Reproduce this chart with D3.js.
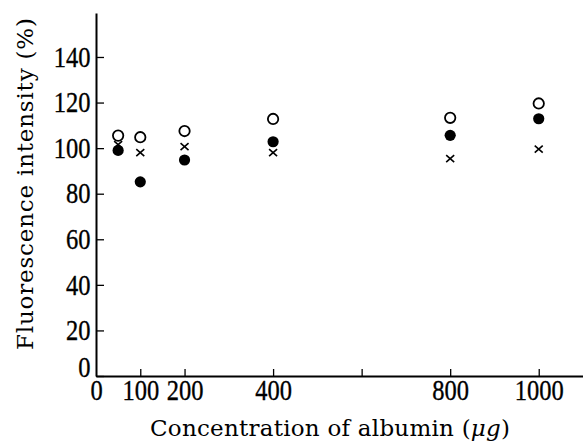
<!DOCTYPE html>
<html>
<head>
<meta charset="utf-8">
<script src="https://cdn.jsdelivr.net/npm/d3@7"></script>
<style>
  body { margin: 0; background: #fff; }
</style>
</head>
<body>
<div id="chart"></div>
<script>
// albumin amount (ug) and fluorescence intensity (%)
const albumin = [50, 100, 200, 400, 800, 1000];
const openCircle = [105.5, 104.8, 107.5, 112.8, 113.3, 119.6];
const filledCircle = [99, 85.2, 94.8, 102.8, 105.6, 112.9];
const cross = [101.5, 98, 100.7, 98, 95.4, 99.6];

const xTicks = [0, 100, 200, 400, 600, 800, 1000];
const xTickLabels = ["0", "100", "200", "400", "", "800", "1000"];
const yTicks = [0, 20, 40, 60, 80, 100, 120, 140];

const width = 583, height = 443;
const margin = { top: 13, left: 96, bottom: 67, right: 0 };

const xScale = d3.scaleLinear()
    .domain([0, 1100])
    .range([margin.left, width - margin.right]);

const yScale = d3.scaleLinear()
    .domain([0, 159.3])
    .range([height - margin.bottom, margin.top]);

const svg = d3.select("#chart").append("svg")
    .attr("width", width)
    .attr("height", height);

const ink = "#000";
const tickFont = "'Liberation Serif', serif";
const titleFont = "'DejaVu Serif', serif";

// axes: ticks point inward
const xAxis = d3.axisBottom(xScale)
    .tickValues(xTicks)
    .tickFormat((d, i) => xTickLabels[i])
    .tickSizeInner(-7)
    .tickSizeOuter(0)
    .tickPadding(3);

const yAxis = d3.axisLeft(yScale)
    .tickValues(yTicks)
    .tickSizeInner(-8)
    .tickSizeOuter(0)
    .tickPadding(5.5);

const gx = svg.append("g")
    .attr("transform", `translate(0,${yScale(0)})`)
    .call(xAxis);

const gy = svg.append("g")
    .attr("transform", `translate(${xScale(0)},0)`)
    .call(yAxis);

[gx, gy].forEach(g => {
    g.select(".domain").attr("stroke", ink).attr("stroke-width", 2);
    g.selectAll(".tick line").attr("stroke", ink).attr("stroke-width", 1.3);
    // digits in the original are tall and narrow
    g.selectAll(".tick text")
        .attr("font-family", tickFont)
        .attr("font-size", 24.5)
        .attr("fill", ink)
        .attr("stroke", ink)
        .attr("stroke-width", 0.3)
        .attr("transform", "scale(1,1.17)");
});
gx.selectAll(".tick").filter(d => d === 0).select("line").remove();
gx.selectAll(".tick text").attr("dy", "0.71em");
gy.selectAll(".tick").filter(d => d === 0).select("text").attr("dy", "0.0em");

// markers
const mk = svg.append("g");

mk.selectAll("circle.open")
    .data(albumin.map((a, i) => [a, openCircle[i]]))
    .join("circle")
    .attr("class", "open")
    .attr("cx", d => xScale(d[0]))
    .attr("cy", d => yScale(d[1]))
    .attr("r", 5.2)
    .attr("fill", "#fff")
    .attr("stroke", ink)
    .attr("stroke-width", 1.8);

mk.selectAll("path.cross")
    .data(albumin.map((a, i) => [a, cross[i]]))
    .join("path")
    .attr("class", "cross")
    .attr("transform", d => `translate(${xScale(d[0])},${yScale(d[1])})`)
    .attr("d", "M-4,-3.5L4,3.5M-4,3.5L4,-3.5")
    .attr("stroke", ink)
    .attr("stroke-width", 1.6)
    .attr("fill", "none");

mk.selectAll("circle.filled")
    .data(albumin.map((a, i) => [a, filledCircle[i]]))
    .join("circle")
    .attr("class", "filled")
    .attr("cx", d => xScale(d[0]))
    .attr("cy", d => yScale(d[1]))
    .attr("r", 5.6)
    .attr("fill", ink);

// titles
svg.append("text")
    .attr("transform", `translate(33,${(18 + 350) / 2}) rotate(-90)`)
    .attr("text-anchor", "middle")
    .attr("font-family", titleFont)
    .attr("font-size", 23)
    .attr("fill", ink)
    .attr("textLength", 332)
    .attr("lengthAdjust", "spacing")
    .text("Fluorescence intensity (%)");

const xt = svg.append("text")
    .attr("x", 330)
    .attr("y", 436)
    .attr("text-anchor", "middle")
    .attr("font-family", titleFont)
    .attr("font-size", 23)
    .attr("fill", ink)
    .attr("textLength", 360)
    .attr("lengthAdjust", "spacing");
xt.append("tspan").text("Concentration of albumin (");
xt.append("tspan").attr("font-style", "italic").text("\u03bcg");
xt.append("tspan").text(")");
</script>
</body>
</html>
